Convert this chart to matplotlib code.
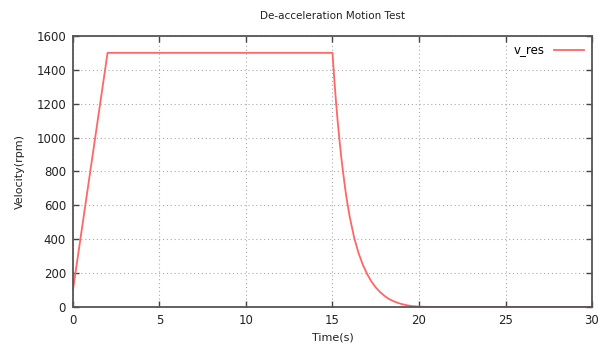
import matplotlib
matplotlib.use("Agg")
import matplotlib.pyplot as plt

# values
time_s = [0, 2, 15, 15.1, 15.2, 15.3, 15.4, 15.5, 15.6, 15.7, 15.8, 16.0,
          16.25, 16.5, 16.75, 17.0, 17.25, 17.5, 17.75, 18.0, 18.25, 18.5,
          18.75, 19.0, 19.3, 19.6, 20.0, 20.5, 30]
velocity = [100, 1500, 1500, 1350, 1215, 1095, 990, 890, 805, 725, 650, 530,
            410, 320, 250, 195, 150, 115, 88, 66, 48, 35,
            25, 17, 10, 5, 2, 0, 0]

x_ticks = [0, 5, 10, 15, 20, 25, 30]
y_ticks = [0, 200, 400, 600, 800, 1000, 1200, 1400, 1600]

fig = plt.figure(figsize=(5.98, 3.59), dpi=100)
ax = fig.add_axes([0.122, 0.145, 0.868, 0.755])

ax.plot(time_s, velocity, color="#ff6666", lw=1.3, label="v_res")

ax.set_xlim(0, 30)
ax.set_ylim(0, 1600)
ax.set_xticks(x_ticks)
ax.set_yticks(y_ticks)
ax.grid(True, color="#aaaaaa", linestyle=(0, (1, 2.5)), lw=0.8)
ax.tick_params(direction="in", top=True, right=True, length=4, width=1,
               color="#444444", labelsize=8.5, labelcolor="#222222", pad=5)
for s in ax.spines.values():
    s.set_color("#555555")
    s.set_linewidth(1.3)

ax.set_title("De-acceleration Motion Test", fontsize=7.5, pad=12, color="#222222")
ax.set_xlabel("Time(s)", fontsize=8, color="#222222", labelpad=4)
ax.set_ylabel("Velocity(rpm)", fontsize=8, color="#222222", labelpad=8)

ax.legend(loc="upper right", frameon=False, markerfirst=False, fontsize=8.5,
          handlelength=2.5, borderaxespad=0.3)

fig.savefig("out.png", dpi=100)
